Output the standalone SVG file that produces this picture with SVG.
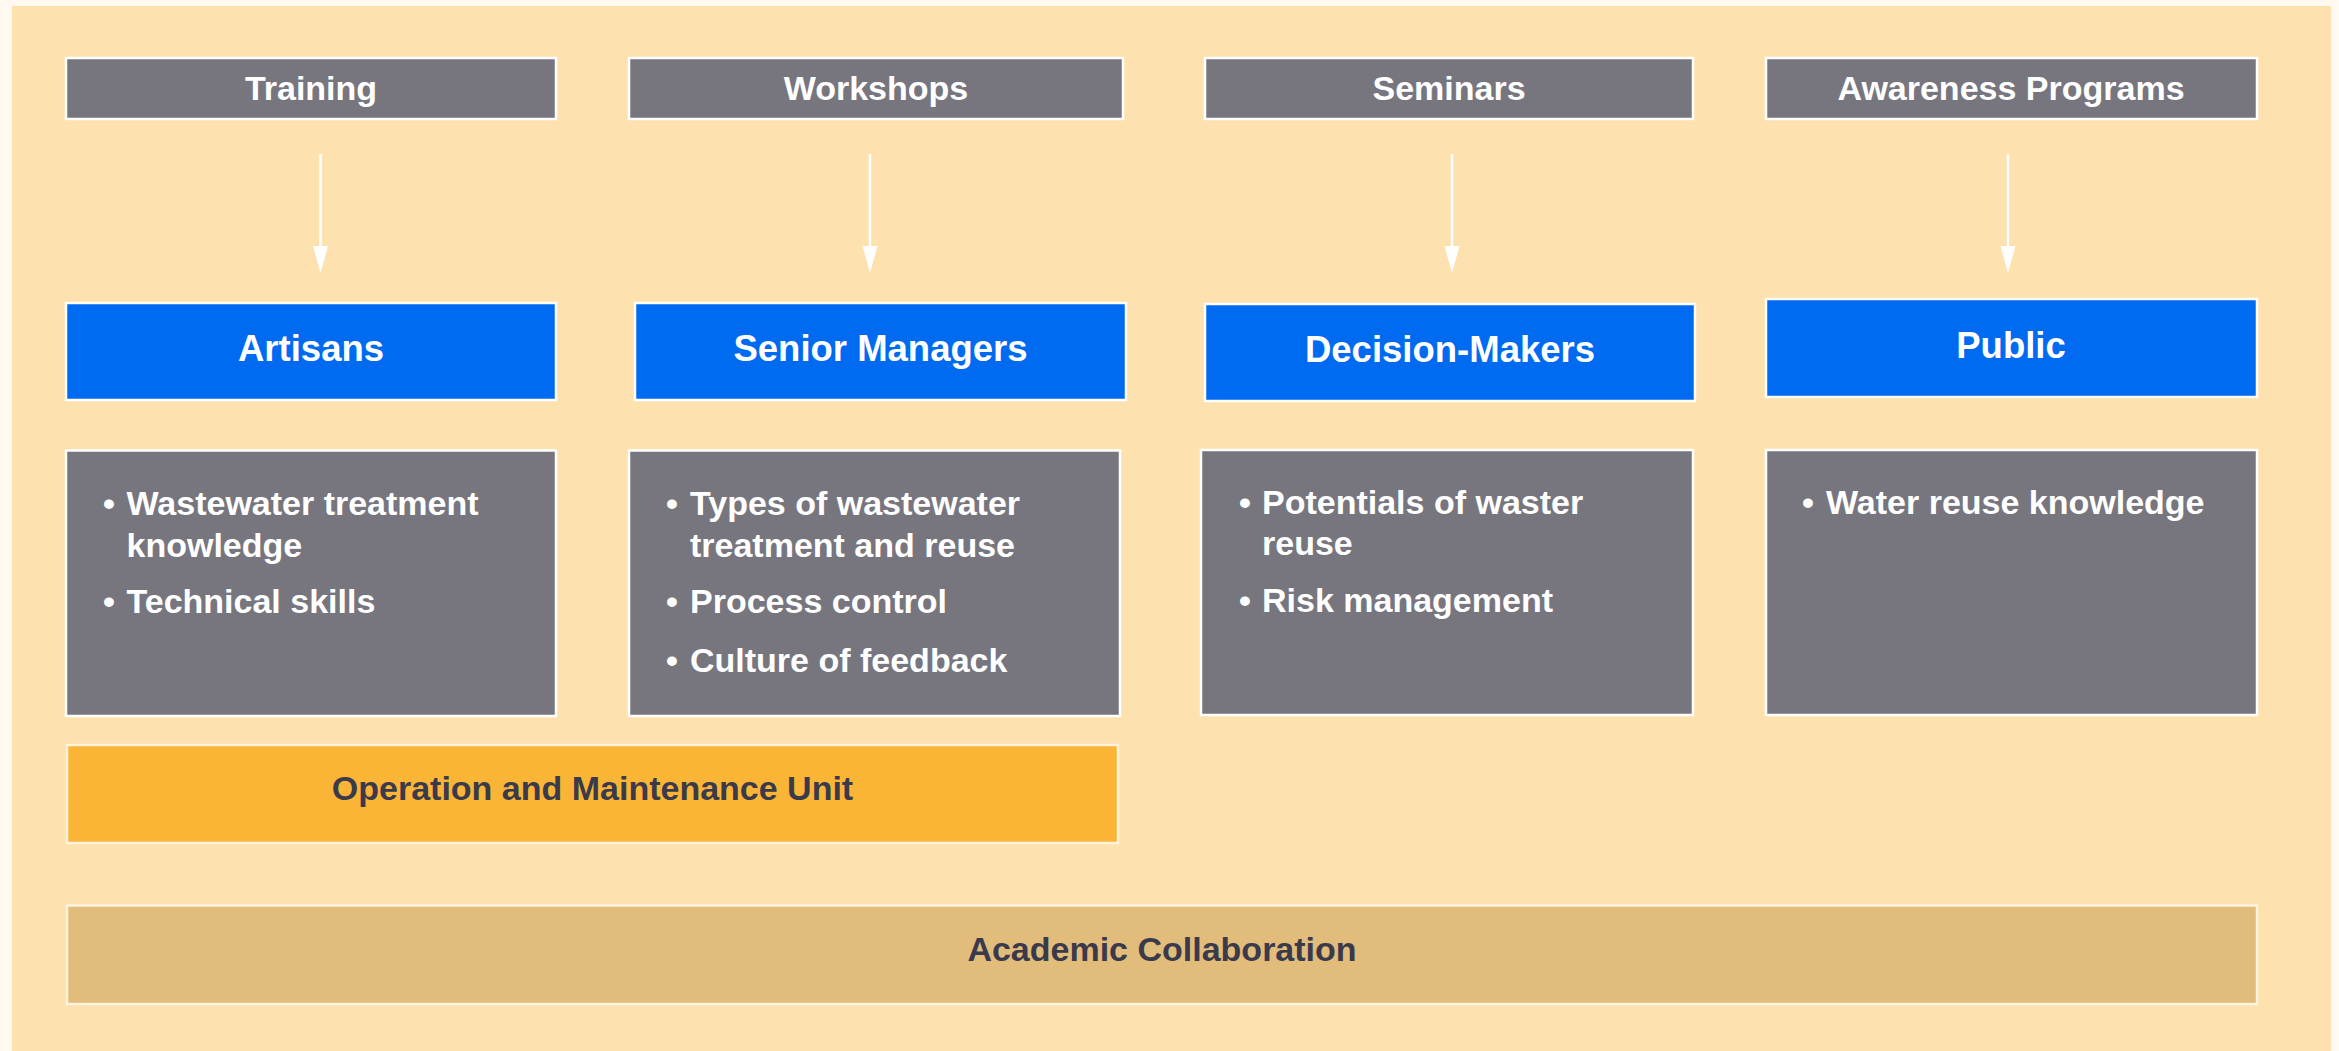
<svg xmlns="http://www.w3.org/2000/svg" width="2339" height="1051" viewBox="0 0 2339 1051">
<style>
.g{fill:#77767F;stroke:#FFFFFF;stroke-width:2.5}
.b{fill:#006BF0;stroke:#FFFFFF;stroke-width:2.5}
.o{fill:#FBB536;stroke:#FFF3DD;stroke-width:2.5}
.a{fill:#E1BC7B;stroke:#FFF3DD;stroke-width:2.5}
text{font-family:"Liberation Sans",Arial,sans-serif;font-weight:bold}
.t{fill:#FFFFFF;font-size:34px;text-anchor:middle}
.bt{fill:#FFFFFF;font-size:36.5px;text-anchor:middle}
.c{fill:#FFFFFF;font-size:34px}
.bu{fill:#FFFFFF;font-size:34px;text-anchor:middle}
.d{fill:#3B3A4B;font-size:34px;text-anchor:middle}
.conn{stroke:#FFFFFF;stroke-width:2.5;fill:none}
</style>
<defs>
<marker id="ah" markerUnits="userSpaceOnUse" markerWidth="16" markerHeight="27" refX="8" refY="26" orient="auto-start-reverse" viewBox="0 0 16 27">
<path d="M0.5,0 L15.5,0 L8,27 Z" fill="#FFFFFF" transform="rotate(0)"/>
</marker>
</defs>
<rect x="0" y="0" width="2339" height="1051" fill="#FFF9F0"/>
<rect x="12" y="6" width="2319" height="1045" fill="#FDE1AE"/>

<g id="training"><rect class="g" x="66" y="58" width="490" height="61"/><text class="t" x="311" y="100">Training</text></g>
<g id="workshops"><rect class="g" x="629" y="58" width="494" height="61"/><text class="t" x="876" y="100">Workshops</text></g>
<g id="seminars"><rect class="g" x="1205" y="58" width="488" height="61"/><text class="t" x="1449" y="100">Seminars</text></g>
<g id="awareness"><rect class="g" x="1766" y="58" width="491" height="61"/><text class="t" x="2011" y="100">Awareness Programs</text></g>

<g id="connectors">
<line class="conn" x1="320.5" y1="154" x2="320.5" y2="248"/><path d="M313,246 L328,246 L320.5,273 Z" fill="#FFFFFF"/>
<line class="conn" x1="870" y1="154" x2="870" y2="248"/><path d="M862.5,246 L877.5,246 L870,273 Z" fill="#FFFFFF"/>
<line class="conn" x1="1452" y1="154" x2="1452" y2="248"/><path d="M1444.5,246 L1459.5,246 L1452,273 Z" fill="#FFFFFF"/>
<line class="conn" x1="2008" y1="154" x2="2008" y2="248"/><path d="M2000.5,246 L2015.5,246 L2008,273 Z" fill="#FFFFFF"/>
</g>

<g id="artisans"><rect class="b" x="66" y="303" width="490" height="97"/><text class="bt" x="311" y="361">Artisans</text></g>
<g id="senior-managers"><rect class="b" x="635" y="303" width="491" height="97"/><text class="bt" x="880.5" y="361">Senior Managers</text></g>
<g id="decision-makers"><rect class="b" x="1205" y="304" width="490" height="97"/><text class="bt" x="1450" y="362">Decision-Makers</text></g>
<g id="public"><rect class="b" x="1766" y="299" width="491" height="98"/><text class="bt" x="2011" y="358">Public</text></g>

<g id="artisans-topics"><rect class="g" x="66" y="450.5" width="490" height="265.5"/>
<text class="bu" x="109" y="514.5">•</text><text class="c" x="126.5" y="514.5">Wastewater treatment</text>
<text class="c" x="126.5" y="557">knowledge</text>
<text class="bu" x="109" y="613">•</text><text class="c" x="126.5" y="613">Technical skills</text>
</g>
<g id="managers-topics"><rect class="g" x="629" y="450.5" width="491" height="265.5"/>
<text class="bu" x="672" y="514.5">•</text><text class="c" x="690" y="514.5">Types of wastewater</text>
<text class="c" x="690" y="557">treatment and reuse</text>
<text class="bu" x="672" y="613">•</text><text class="c" x="690" y="613">Process control</text>
<text class="bu" x="672" y="671.5">•</text><text class="c" x="690" y="671.5">Culture of feedback</text>
</g>
<g id="decision-topics"><rect class="g" x="1201" y="450" width="492" height="265"/>
<text class="bu" x="1245" y="513.5">•</text><text class="c" x="1262" y="513.5">Potentials of waster</text>
<text class="c" x="1262" y="555">reuse</text>
<text class="bu" x="1245" y="612">•</text><text class="c" x="1262" y="612">Risk management</text>
</g>
<g id="public-topics"><rect class="g" x="1766" y="450" width="491" height="265"/>
<text class="bu" x="1808" y="513.5">•</text><text class="c" x="1826" y="513.5">Water reuse knowledge</text>
</g>

<g id="om-unit"><rect class="o" x="67" y="745" width="1051" height="98"/><text class="d" x="592.5" y="800">Operation and Maintenance Unit</text></g>
<g id="academic"><rect class="a" x="67" y="905.5" width="2190" height="98.5"/><text class="d" x="1162" y="961">Academic Collaboration</text></g>
</svg>
